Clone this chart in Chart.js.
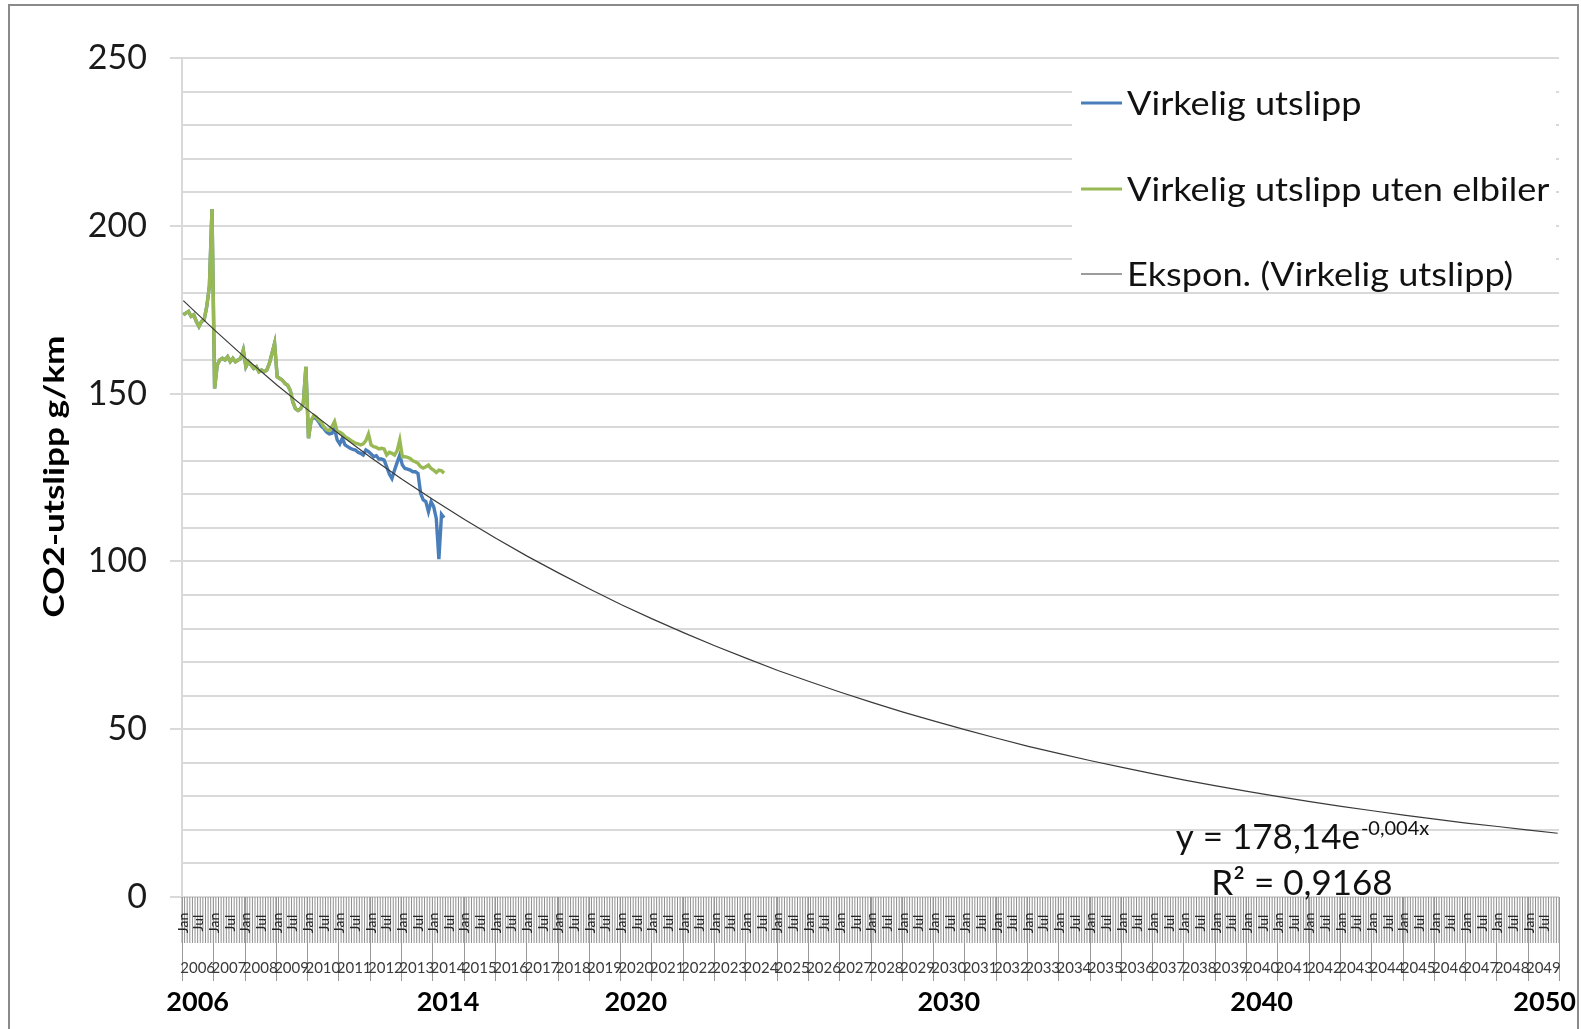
<!DOCTYPE html>
<html>
<head>
<meta charset="utf-8">
<script src="https://cdn.jsdelivr.net/npm/chart.js@4.4.1/dist/chart.umd.min.js"></script>
<style>
html,body{margin:0;padding:0;background:#fff;}
#wrap{position:relative;width:1581px;height:1029px;}
</style>
</head>
<body>
<div id="wrap"><canvas id="c" width="1581" height="1029"></canvas></div>
<script>
// ---------- DATA ----------
const firstYear = 2006;
const lastYear = 2049;
const monthNames = ['Jan','Feb','Mar','Apr','May','Jun','Jul','Aug','Sep','Oct','Nov','Dec'];
const shownMonthTicks = ['Jan','Jul'];
const boldYearLabels = [2006, 2014, 2020, 2030, 2040, 2050];
const yTickLabels = [0, 50, 100, 150, 200, 250];

const seriesNames = ['Virkelig utslipp', 'Virkelig utslipp uten elbiler', 'Ekspon. (Virkelig utslipp)'];

// Monthly values from Jan 2006 (g CO2/km)
const virkeligUtslipp = [
  173.5,174,174.5,173,173.5,171.5,170,171.5,172,176,
  182,205,151.5,158.5,160,160.5,160,161,159.5,160.5,
  159.5,160,160.5,163,158,159.5,158.5,157.5,158,156.5,
  157,156.5,157,159,162,165,155,154.5,154,153,
  152.5,151,147.5,145.5,145,145.5,147,158,136.7,142,
  143,142.5,141.5,140.2,139.5,138.5,138,138.2,139.5,136.2,
  135,136.7,134.7,134.2,133.7,133.4,133.2,132.5,132.2,131.7,
  133.2,132.7,132,131.2,131.5,130.5,130.5,130.2,128.2,126,
  124.7,127.2,129.5,131.7,128.7,127.7,127.5,127.2,126.7,126.7,
  126.2,120.3,118.3,117.8,114.8,117.8,116.3,112.8,100.7,114,113
];
const utenElbiler = [
  173.5,174,174.5,173,173.5,171.5,170,171.5,172,176,
  182,205,151.5,158.5,160,160.5,160,161,159.5,160.5,
  159.5,160,160.5,163,158,159.5,158.5,157.5,158,156.5,
  157,156.5,157,159,162,165,155,154.5,154,153,
  152.5,151,147.5,145.5,145,145.5,147,158,136.7,142,
  143.5,143,142,141.2,140,139.2,139,140.2,141.7,138.7,
  138.5,138,137.2,136.7,136.2,135.7,135.2,135,134.7,135,
  136,138,134.7,134.2,134,133.5,133.7,133.5,131.7,132.5,
  132.2,131.7,133,136.2,131.2,131.2,131,130.7,130,129.7,
  129.2,128.2,127.8,128.2,128.7,127.7,127.2,126.5,127.2,127,126.3
];
// Trendline read at each January 2006..2049, plus its end value (Dec 2049)
const trendJanuary = [
  177.7,168.9,160.5,152.5,145.0,137.8,130.9,124.4,118.3,112.4,
  106.8,101.5,96.5,91.7,87.1,82.8,78.7,74.8,71.1,67.5,
  64.2,61.0,58.0,55.1,52.4,49.8,47.3,44.9,42.7,40.6,
  38.6,36.7,34.8,33.1,31.5,29.9,28.4,27.0,25.7,24.4,
  23.2,22.0,21.0,19.9
];
const trendEnd = 19.0;
const equationMain = 'y = 178,14e';
const equationExp = '-0,004x';
const rSquaredText = 'R² = 0,9168';
const yTitle = 'CO2-utslipp g/km';

// ---------- BUILD ----------
const years = [];
for (let y = firstYear; y <= lastYear; y++) years.push(y);
const labels = [];
years.forEach(y => monthNames.forEach(m => labels.push(m + ' ' + y)));
const trendData = labels.map(() => null);
trendJanuary.forEach((v, k) => { trendData[k * 12] = v; });
trendData[labels.length - 1] = trendEnd;

const FONT = 'Lato';

function stretchText(c, text, x, y, sx) {
  c.save(); c.translate(x, y); c.scale(sx, 1); c.fillText(text, 0, 0); c.restore();
}

const excelPlugin = {
  id: 'excelLook',
  beforeDraw(chart) {
    const c = chart.ctx;
    c.save(); c.fillStyle = '#ffffff'; c.fillRect(0, 0, chart.width, chart.height); c.restore();
  },
  afterDatasetsDraw(chart) {
    const c = chart.ctx, ds = chart.data.datasets;
    c.save();
    c.fillStyle = '#ffffff';
    c.fillRect(1072, 73, 484, 218);
    c.font = '33px ' + FONT; c.textBaseline = 'middle'; c.textAlign = 'left'; c.fillStyle = '#111';
    const rows = [103, 189, 274];
    ds.forEach((d, k) => {
      c.strokeStyle = d.borderColor; c.lineWidth = k < 2 ? 2.8 : 1.2;
      c.beginPath(); c.moveTo(1081, rows[k]); c.lineTo(1122, rows[k]); c.stroke();
      stretchText(c, d.label, 1127, rows[k] + 1, 1.095);
    });
    c.restore();
  },
  afterDraw(chart) {
    const c = chart.ctx, xs = chart.scales.x, area = chart.chartArea;
    const n = labels.length, w = (area.right - area.left) / n, y0 = area.bottom;
    c.save();
    // month tick band
    c.strokeStyle = '#8f8f8f'; c.lineWidth = 1;
    c.beginPath();
    for (let j = 0; j <= n; j++) { const x = area.left + j * w; c.moveTo(x, y0); c.lineTo(x, y0 + 46); }
    c.stroke();
    // year separators
    c.strokeStyle = '#999999';
    c.beginPath();
    for (let k = 0; k <= years.length; k++) { const x = Math.round(area.left + k * 12 * w) + 0.5; c.moveTo(x, y0); c.lineTo(x, y0 + 84); }
    c.stroke();
    // Jan / Jul labels
    c.font = '14px ' + FONT; c.fillStyle = '#222'; c.textAlign = 'center'; c.textBaseline = 'middle';
    years.forEach((yr, k) => {
      shownMonthTicks.forEach(mn => {
        const i = k * 12 + monthNames.indexOf(mn);
        const x = xs.getPixelForValue(i);
        c.save(); c.translate(x, y0 + 26); c.rotate(-Math.PI / 2); c.fillText(mn, 0, 0); c.restore();
      });
    });
    // year labels
    c.font = '15px ' + FONT; c.fillStyle = '#3a3a3a';
    years.forEach((yr, k) => { c.fillText(String(yr), area.left + (k * 12 + 6) * w, y0 + 71); });
    // bold big labels
    c.font = 'bold 27px ' + FONT; c.fillStyle = '#000';
    boldYearLabels.forEach(yr => {
      const tw = c.measureText(String(yr)).width;
      let x = area.left + ((yr - firstYear) * 12 + 6) * w;
      x = Math.min(x, chart.width - 5 - tw / 2);
      c.fillText(String(yr), x, y0 + 105);
    });
    // y axis title
    c.font = 'bold 28px ' + FONT; c.fillStyle = '#000';
    c.save(); c.translate(55, (area.top + area.bottom) / 2 - 1); c.rotate(-Math.PI / 2);
    stretchText(c, yTitle, 0, 0, 282 / c.measureText(yTitle).width);
    c.restore();
    // equation
    c.textAlign = 'left'; c.textBaseline = 'alphabetic'; c.fillStyle = '#111';
    c.font = '35px ' + FONT; const wMain = c.measureText(equationMain).width;
    c.font = '20px ' + FONT; const wExp = c.measureText(equationExp).width;
    const cx = 1302, x1 = cx - (wMain + wExp) / 2;
    c.font = '35px ' + FONT; c.fillText(equationMain, x1, 849);
    c.font = '20px ' + FONT; c.fillText(equationExp, x1 + wMain + 1, 835);
    c.font = '35px ' + FONT; c.textAlign = 'center'; c.fillText(rSquaredText, cx, 895);
    // frame
    c.strokeStyle = '#8a8a8a'; c.lineWidth = 2; c.strokeRect(9, 5, 1569, 1100);
    c.restore();
  }
};

function draw() {
  new Chart(document.getElementById('c').getContext('2d'), {
    type: 'line',
    data: {
      labels: labels,
      datasets: [
        { label: seriesNames[0], data: virkeligUtslipp, borderColor: '#4A7EBB', borderWidth: 3.4, pointRadius: 0, tension: 0, order: 2 },
        { label: seriesNames[1], data: utenElbiler, borderColor: '#98B954', borderWidth: 3.4, pointRadius: 0, tension: 0, order: 1 },
        { label: seriesNames[2], data: trendData, borderColor: '#3a3a3a', borderWidth: 1.2, pointRadius: 0, tension: 0, spanGaps: true, order: 0 }
      ]
    },
    options: {
      responsive: false, animation: false,
      layout: { padding: { left: 0, right: 22, top: 58, bottom: 0 } },
      plugins: { legend: { display: false }, tooltip: { enabled: false } },
      scales: {
        x: {
          type: 'category', offset: true,
          grid: { display: false }, border: { display: false },
          ticks: { display: false },
          afterFit: s => { s.height = 132; }
        },
        y: {
          min: 0, max: 250,
          afterFit: s => { s.width = 182; },
          ticks: {
            stepSize: 10, autoSkip: false,
            callback: v => yTickLabels.includes(v) ? String(v) : '',
            font: { family: FONT, size: 34 }, color: '#1a1a1a', padding: 23
          },
          grid: {
            color: '#d9d9d9', lineWidth: 2, tickLength: 12,
            tickColor: ctx => (ctx.tick && yTickLabels.includes(ctx.tick.value)) ? '#d9d9d9' : 'rgba(0,0,0,0)'
          },
          border: { color: '#d9d9d9', width: 2 }
        }
      }
    },
    plugins: [excelPlugin]
  });
}
const fl = (document.fonts && document.fonts.load) ? Promise.all([document.fonts.load('32px Lato'), document.fonts.load('bold 27px Lato')]) : Promise.resolve();
fl.then(draw, draw);
</script>
</body>
</html>
